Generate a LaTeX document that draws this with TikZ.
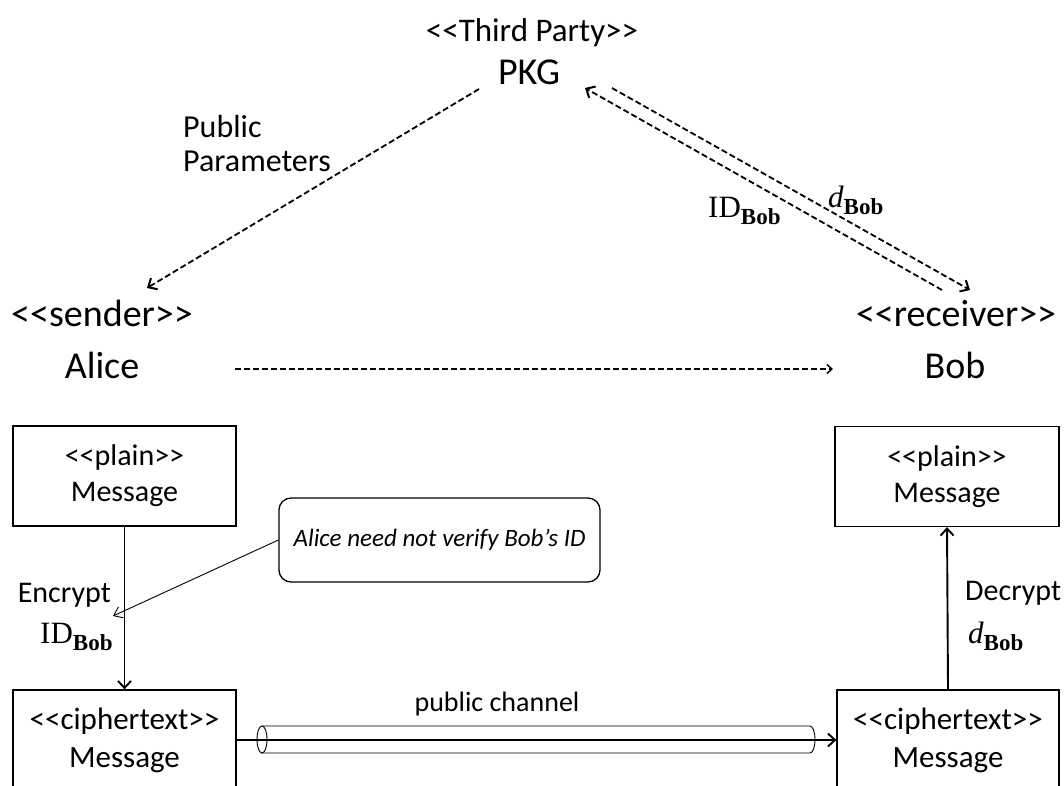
\documentclass[tikz,border=0pt]{standalone}
\usepackage{fontspec}
\setmainfont{Carlito}[Ligatures=TeXOff]
\newfontfamily\seriff{Liberation Serif}
\usetikzlibrary{arrows.meta}
\newcommand\subBob{\raisebox{-7pt}{\fontsize{23}{23}\selectfont\bfseries Bob}}
\newcommand\IDBob{{\seriff\fontsize{31}{31}\selectfont ID\subBob}}
\newcommand\dBob{{\seriff\fontsize{31}{31}\selectfont\itshape d\upshape\subBob}}
\begin{document}
\begin{tikzpicture}[x=1pt,y=-1pt,
  big/.style={font=\fontsize{38}{46}\selectfont, inner sep=0pt, anchor=base},
  med/.style={font=\fontsize{30}{36}\selectfont, inner sep=0pt},
  msgbox/.style={draw, line width=1.3pt, align=center, font=\fontsize{30}{36}\selectfont,
    minimum width=223pt, minimum height=100pt, inner sep=0pt},
  dsh/.style={dash pattern=on 6pt off 3pt, line width=1.8pt},
  bigtip/.style={-{Straight Barb[length=7pt,width=13pt,line width=2pt]}},
  smalltip/.style={-{Straight Barb[length=5pt,width=9pt]}},
  soltip/.style={line width=1.9pt,-{Straight Barb[length=7pt,width=13pt]}},
  thintip/.style={line width=0.9pt,-{Straight Barb[length=8pt,width=12pt]}}
]
\useasboundingbox (0,0) rectangle (1064,785);
\clip (0,0) rectangle (1064,785);

% top: PKG
\node[big,font=\fontsize{33}{40}\selectfont] (third) at (532,41) {<<Third Party>>};
\node[big] (pkg) at (529,84) {PKG};
% sender / receiver
\node[big] (sender) at (102,326) {<<sender>>};
\node[big] (alice) at (102,378) {Alice};
\node[big] (receiver) at (956,326) {<<receiver>>};
\node[big] (bob) at (955,378) {Bob};

% endpoints of dashed connectors
\coordinate (ppS) at (479,89);
\coordinate (ppE) at (147,288);
\coordinate (r1S) at (612,88);
\coordinate (r1E) at (970,290);
\coordinate (r2S) at (942,290);
\coordinate (r2E) at (585,88);
\coordinate (abS) at (235,369);
\coordinate (abE) at (833,369);

\draw[dsh,bigtip] (ppS) -- (ppE);
\draw[dsh,bigtip] (r1S) -- (r1E);
\draw[dsh,bigtip] (r2S) -- (r2E);
\draw[dsh,line width=1.4pt,smalltip] (abS) -- (abE);

\node[med,font=\fontsize{32}{36}\selectfont,anchor=base west] (pub) at (183,137) {Public};
\node[med,font=\fontsize{32}{36}\selectfont,anchor=base west] (par) at (183,171) {Parameters};
\node[anchor=base west,inner sep=0pt] (idtop) at (708,217) {\IDBob};
\node[anchor=base west,inner sep=0pt] (dtop) at (828,207) {\dBob};

% message boxes
\node[msgbox] (lplain) at (124.5,476) {<<plain>>\\Message};
\node[msgbox,minimum width=224pt] (rplain) at (947,476.5) {<<plain>>\\Message};
\node[msgbox,font=\fontsize{31}{38}\selectfont] (lciph) at (124.5,740) {<<ciphertext>>\\Message};
\node[msgbox,font=\fontsize{31}{38}\selectfont,minimum width=222pt] (rciph) at (948,740) {<<ciphertext>>\\Message};

\draw[soltip] (lplain.south) -- (lciph.north);
\draw[soltip] (rciph.north) -- (rplain.south);

\node[med,anchor=base east] (enc) at (111,602) {Encrypt};
\node[anchor=base west,inner sep=0pt] (idenc) at (40,643) {\IDBob};
\node[med,anchor=base west] (dec) at (965,600) {Decrypt};
\node[anchor=base west,inner sep=0pt] (ddec) at (968,643) {\dBob};

% callout
\node[draw, rounded corners=12pt, line width=1.3pt, minimum width=321pt, minimum height=84pt,
  font=\fontsize{25}{30}\selectfont\itshape] (note) at (439.5,540) {Alice need not verify Bob’s ID};
\coordinate (noteTip) at (113,616);
\draw[thintip] (note.west) -- (noteTip);

% public channel
\draw[line width=0.9pt] (262,726) -- (810,726)
  arc[start angle=-90,end angle=90,x radius=5,y radius=13.5] -- (262,753);
\draw[line width=0.9pt] (262,739.5) ellipse [x radius=5, y radius=13.5];
\draw[soltip] (lciph.east) -- (rciph.west);
\node[med,font=\fontsize{28}{34}\selectfont,anchor=base] (pc) at (497,711) {public channel};
\end{tikzpicture}
\end{document}
